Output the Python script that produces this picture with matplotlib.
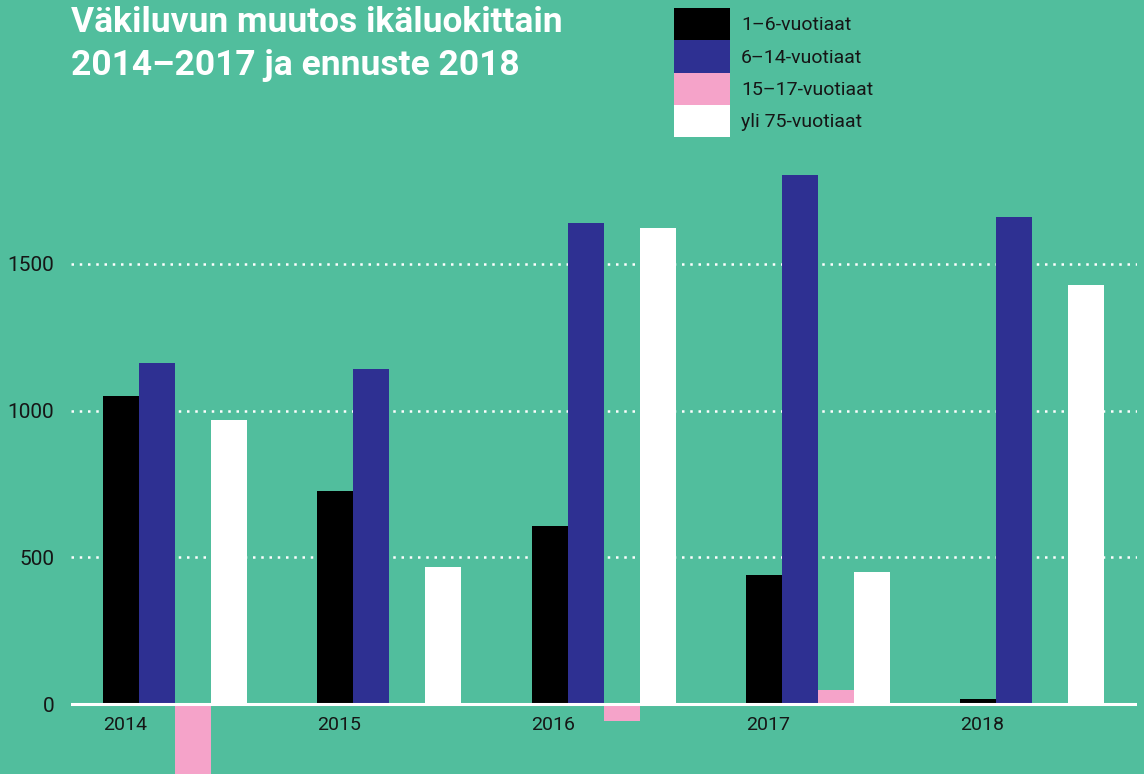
import matplotlib
matplotlib.use("Agg")
import matplotlib.pyplot as plt
from matplotlib.patches import Patch
import numpy as np

# ---- data ----
years = ["2014", "2015", "2016", "2017", "2018"]
series_names = ["1–6-vuotiaat", "6–14-vuotiaat", "15–17-vuotiaat", "yli 75-vuotiaat"]
age_1_6 = [1049, 726, 606, 440, 17]
age_6_14 = [1162, 1141, 1639, 1802, 1659]
age_15_17 = [-300, 0, -58, 48, 0]
age_75 = [968, 467, 1622, 450, 1428]
yticks = [0, 500, 1000, 1500]
title_lines = ["Väkiluvun muutos ikäluokittain", "2014–2017 ja ennuste 2018"]

BG = "#51BE9D"
colors = ["#000000", "#2E3092", "#F5A3C9", "#FFFFFF"]
TEXT = "#161616"

W, H = 1144, 774
fig = plt.figure(figsize=(W / 100, H / 100), dpi=100, facecolor=BG)

ax_left, ax_right = 71 / W, 1137 / W
ax_bottom, ax_top = 0.0, 1 - 150 / H
ax = fig.add_axes([ax_left, ax_bottom, ax_right - ax_left, ax_top - ax_bottom])
ax.set_facecolor(BG)

step_px = 214.3
bw = 36 / step_px
x = np.arange(len(years))
all_series = [age_1_6, age_6_14, age_15_17, age_75]
for k, (vals, c) in enumerate(zip(all_series, colors)):
    ax.bar(x + k * bw, vals, width=bw, align="edge", color=c, linewidth=0, zorder=2)

px_per_unit = 0.2935
ax.set_ylim(-(774 - 704) / px_per_unit, (704 - 150) / px_per_unit)
ax.set_xlim(-(103 - 71) / step_px, (1137 - 103) / step_px)

for yv in yticks[1:]:
    ax.axhline(yv, color="white", linewidth=1.8, linestyle=(0, (1, 2.3)), zorder=1)
ax.axhline(0, color="white", linewidth=2.2, zorder=3)

for s in ax.spines.values():
    s.set_visible(False)

ax.set_xticks(x)
ax.set_xticklabels([])
ax.tick_params(axis="x", length=0)
for xi, yr in zip(x, years):
    ax.annotate(yr, xy=(xi, 0), xytext=(0, -12), textcoords="offset pixels",
                ha="left", va="top", fontsize=14, color=TEXT, family="Roboto")

ax.set_yticks(yticks)
ax.set_yticklabels([str(v) for v in yticks], fontsize=15, color=TEXT, family="Roboto")
ax.tick_params(axis="y", length=0, pad=12)

# title
for i, line in enumerate(title_lines):
    fig.text(71 / W, 1 - (32 + 43 * i) / H, line, fontsize=25.5, fontweight="bold",
             color="white", family="Roboto", va="baseline")

# legend
fs = 14
fs_px = fs * 100 / 72
hh = (32.3 / fs_px - 0.245) / 0.65
handles = [Patch(facecolor=c, edgecolor="none") for c in colors]
leg = fig.legend(handles, series_names, loc="upper left",
                 bbox_to_anchor=(674 / W, 1 - 8 / H), frameon=False,
                 borderpad=0, borderaxespad=0, labelspacing=0,
                 handlelength=56 / fs_px, handleheight=hh,
                 handletextpad=11 / fs_px, prop={"family": "Roboto", "size": fs})
for t in leg.get_texts():
    t.set_color(TEXT)

fig.savefig("out.png", dpi=100, facecolor=BG)
